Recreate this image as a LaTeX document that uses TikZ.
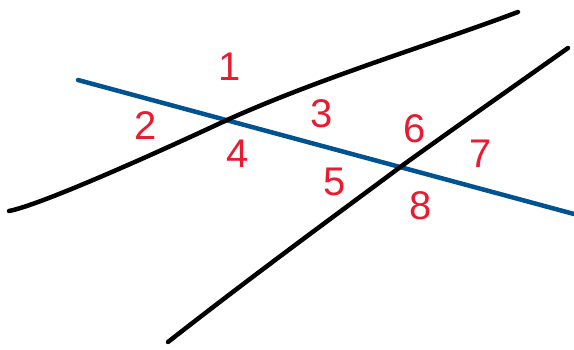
\documentclass[tikz,border=0pt]{standalone}
\usepackage{fontspec}
\setmainfont{Liberation Sans}
\definecolor{angred}{RGB}{232,28,48}
\definecolor{lineblue}{RGB}{0,82,145}
\begin{document}
\begin{tikzpicture}[x=1pt,y=-1pt,
  blackline/.style={line width=4.5pt,black,line cap=round},
  blueline/.style={line width=4.5pt,lineblue,line cap=round},
  anglabel/.style={text=angred,font=\fontsize{40}{40}\selectfont,inner sep=0pt}]
\useasboundingbox (0,0) rectangle (574,349);
% transversal (blue)
\coordinate (b1) at (78,80);
\coordinate (b2) at (574,214);
\draw[blueline] (b1) -- (b2);
% first black line
\coordinate (p0) at (9,211);
\coordinate (p4) at (518,12);
\draw[blackline] (p0) .. controls (40,205) and (150,156) .. (227,120) .. controls (320,78) and (430,45) .. (p4);
% second black line
\coordinate (q0) at (168,342);
\coordinate (q1) at (568,48);
\draw[blackline] (q0) .. controls (260,270) and (340,212) .. (403,165) .. controls (460,124) and (520,82) .. (q1);
% labels
\node[anglabel] (l1) at (230,67) {1};
\node[anglabel] (l2) at (146,126) {2};
\node[anglabel] (l3) at (322,114) {3};
\node[anglabel] (l4) at (238,154) {4};
\node[anglabel] (l5) at (335,182) {5};
\node[anglabel] (l6) at (415,129) {6};
\node[anglabel] (l7) at (481,154) {7};
\node[anglabel] (l8) at (421,206) {8};
\end{tikzpicture}
\end{document}
